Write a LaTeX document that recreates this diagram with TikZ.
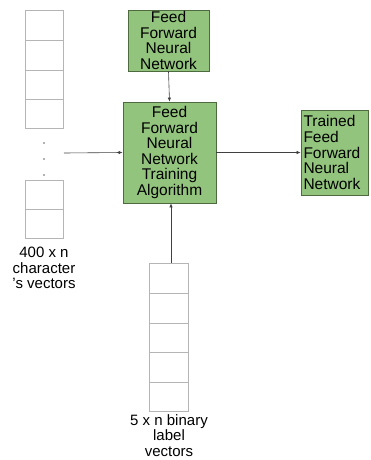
\documentclass[tikz,border=0pt]{standalone}
\usepackage{fontspec}
\setmainfont{Liberation Sans}
\usetikzlibrary{arrows.meta,positioning}
\definecolor{boxgreen}{HTML}{93C47D}
\definecolor{boxedge}{HTML}{4E6B40}
\definecolor{celledge}{HTML}{B5B5B5}
\begin{document}
\begin{tikzpicture}[x=1pt,y=-1pt,
  nnbox/.style={draw=boxedge,fill=boxgreen,line width=0.8pt,inner sep=0pt,
    font=\fontsize{15.5}{15.6}\selectfont},
  cell/.style={draw=celledge,line width=0.7pt,minimum width=38pt,inner sep=0pt},
  caption/.style={align=center,font=\fontsize{15}{15.2}\selectfont,inner sep=0pt},
  flow/.style={draw=black!75,line width=0.6pt,-{Latex[length=4pt,width=3.5pt]}}]
\useasboundingbox (0,0) rectangle (371,460);

% green processing boxes
\node[nnbox,minimum width=81pt,minimum height=61pt,align=center] (ffnn) at (168.5,40.5)
  {Feed\\Forward\\Neural\\Network};
\node[nnbox,minimum width=93pt,minimum height=101pt,align=center] (train) at (169.5,152.5)
  {Feed\\Forward\\Neural\\Network\\Training\\Algorithm};
\node[nnbox,minimum width=67pt,minimum height=85pt,align=left,text width=62pt] (trained) at (334.5,152.5)
  {Trained\\Feed\\Forward\\Neural\\Network};

% character vector column (left)
\foreach \i/\top/\bot in {1/10/40,2/40/70,3/70/99,4/99/128,5/180/209,6/209/238}{
  \node[cell,minimum height={\bot-\top}] (c\i) at (44,{(\top+\bot)/2}) {};
}
\foreach \y [count=\k] in {143,159,175}{
  \fill[black!60] (44,\y) circle (0.8pt) coordinate (dot\k);
}
\node[caption] (clabel) at (44,268) {400 x n\\character\\'s vectors};

% label vector column (bottom)
\foreach \i/\top/\bot in {1/263/293,2/293/323,3/323/352,4/352/382,5/382/411}{
  \node[cell,minimum width=39pt,minimum height={\bot-\top}] (l\i) at (168.5,{(\top+\bot)/2}) {};
}
\node[caption] (llabel) at (169,435.5) {5 x n binary\\label\\vectors};

% connectors
\coordinate (cin) at (64,153);
\draw[flow] (cin) -- (train.west);
\draw[flow] (ffnn.south) -- (train.north);
\draw[flow] (l1.north -| 171,0) -- (train.south -| 171,0);
\draw[flow] (train.east) -- (trained.west);
\end{tikzpicture}
\end{document}
